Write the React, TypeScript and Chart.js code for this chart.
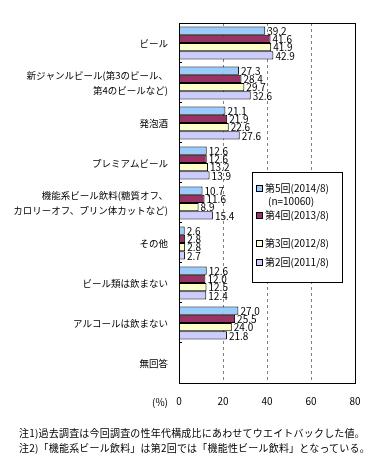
import React, { useEffect, useRef } from "react";
import { Chart, registerables } from "chart.js";

Chart.register(...registerables);

const categories: string[][] = [
  ["ビール"],
  ["新ジャンルビール(第3のビール、", "第4のビールなど)"],
  ["発泡酒"],
  ["プレミアムビール"],
  ["機能系ビール飲料(糖質オフ、", "カロリーオフ、プリン体カットなど)"],
  ["その他"],
  ["ビール類は飲まない"],
  ["アルコールは飲まない"],
  ["無回答"],
];

const seriesNames = ["第5回(2014/8)", "第4回(2013/8)", "第3回(2012/8)", "第2回(2011/8)"];
const seriesColors = ["#99CCFF", "#993366", "#FFFFCC", "#CCCCFF"];

const wave5: (number | null)[] = [39.2, 27.3, 21.1, 12.6, 10.7, 2.6, 12.6, 27.0, null];
const wave4: (number | null)[] = [41.6, 28.4, 21.9, 12.6, 11.6, 2.8, 12.0, 25.5, null];
const wave3: (number | null)[] = [41.9, 29.7, 22.6, 13.2, 8.9, 2.8, 12.5, 24.0, null];
const wave2: (number | null)[] = [42.9, 32.6, 27.6, 13.9, 15.4, 2.7, 12.4, 21.8, null];

const xTicks = [0, 20, 40, 60, 80];
const notes = [
  "注1)過去調査は今回調査の性年代構成比にあわせてウエイトバックした値。",
  "注2)「機能系ビール飲料」は第2回では「機能性ビール飲料」となっている。",
];

const FONT = "'Noto Sans CJK JP', 'Noto Sans', sans-serif";

const overlayPlugin = {
  id: "overlay",
  afterDatasetsDraw(chart: any) {
    const ctx = chart.ctx;
    const area = chart.chartArea;
    ctx.save();
    // data labels
    ctx.font = `10px ${FONT}`;
    ctx.fillStyle = "#000";
    ctx.textBaseline = "middle";
    ctx.textAlign = "left";
    chart.data.datasets.forEach((ds: any, di: number) => {
      const meta = chart.getDatasetMeta(di);
      meta.data.forEach((el: any, i: number) => {
        const v = ds.data[i];
        if (v === null || v === undefined) return;
        ctx.fillText(v.toFixed(1), el.x + 2, el.y + 0.5);
      });
    });
    // frame
    ctx.strokeStyle = "#000";
    ctx.lineWidth = 1;
    ctx.strokeRect(Math.round(area.left) + 0.5, Math.round(area.top) + 0.5,
      Math.round(area.right - area.left), Math.round(area.bottom - area.top));
    // category boundary ticks
    const n = categories.length;
    const h = (area.bottom - area.top) / n;
    ctx.beginPath();
    for (let i = 1; i < n; i++) {
      const y = Math.round(area.top + h * i) - 0.5;
      ctx.moveTo(area.left, y);
      ctx.lineTo(area.left + 3, y);
    }
    ctx.stroke();
    // (%) label
    ctx.textAlign = "right";
    ctx.fillText("(%)", 168, 402);
    // legend
    const lx = 252, ly = 172, lw = 90, lh = 110;
    ctx.fillStyle = "#fff";
    ctx.fillRect(lx, ly, lw, lh);
    ctx.strokeStyle = "#000";
    ctx.strokeRect(lx + 0.5, ly + 0.5, lw, lh);
    const rows = [188, 215, 243, 262];
    ctx.textAlign = "left";
    seriesNames.forEach((name, i) => {
      const y = rows[i];
      ctx.fillStyle = seriesColors[i];
      ctx.fillRect(256, y - 3, 7, 7);
      ctx.strokeStyle = "#000";
      ctx.strokeRect(256.5, y - 2.5, 6, 6);
      ctx.fillStyle = "#000";
      ctx.fillText(name, 265, y + 0.5);
    });
    ctx.fillText("(n=10060)", 268, 201.5);
    ctx.restore();
  },
};

export default function App() {
  const ref = useRef<HTMLCanvasElement | null>(null);
  useEffect(() => {
    if (!ref.current) return;
    Chart.defaults.font.family = FONT;
    Chart.defaults.color = "#000";
    const chart = new Chart(ref.current, {
      type: "bar",
      data: {
        labels: categories,
        datasets: [wave5, wave4, wave3, wave2].map((d, i) => ({
          label: seriesNames[i],
          data: d,
          backgroundColor: seriesColors[i],
          borderColor: "#000",
          borderWidth: 1,
          categoryPercentage: 0.83,
          barPercentage: 1.0,
        })),
      },
      options: {
        indexAxis: "y",
        responsive: false,
        animation: false,
        layout: { padding: { top: 23, right: 29, bottom: 60, left: 0 } },
        plugins: { legend: { display: false }, tooltip: { enabled: false } },
        scales: {
          x: {
            min: 0,
            max: 80,
            afterBuildTicks: (s: any) => { s.ticks = xTicks.map((v) => ({ value: v })); },
            ticks: { font: { size: 10 }, padding: 12, color: "#000" },
            grid: {
              drawTicks: false,
              color: (c: any) => (c.tick && [20, 40, 60].includes(c.tick.value) ? "#808080" : "rgba(0,0,0,0)"),
            },
            border: { display: false, dash: [3, 3] },
            afterFit: (s: any) => { s.height = 26; },
          },
          y: {
            grid: { display: false, drawTicks: false },
            border: { display: false },
            ticks: { font: { size: 9.5, lineHeight: 1.6 }, padding: 11, color: "#000" },
            afterFit: (s: any) => { s.width = 179; },
          },
        },
      },
      plugins: [overlayPlugin],
    } as any);
    return () => chart.destroy();
  }, []);
  return (
    <div style={{ position: "absolute", left: 0, top: 0, width: 384, height: 469, background: "#fff" }}>
      <canvas ref={ref} width={384} height={469} style={{ width: 384, height: 469, display: "block" }} />
      {notes.map((t, i) => (
        <div
          key={i}
          style={{
            position: "absolute",
            left: 19,
            top: 426 + i * 15,
            fontFamily: FONT,
            fontSize: 10,
            lineHeight: "14px",
            letterSpacing: "0.2px",
            whiteSpace: "nowrap",
            color: "#000",
          }}
        >
          {t}
        </div>
      ))}
    </div>
  );
}
